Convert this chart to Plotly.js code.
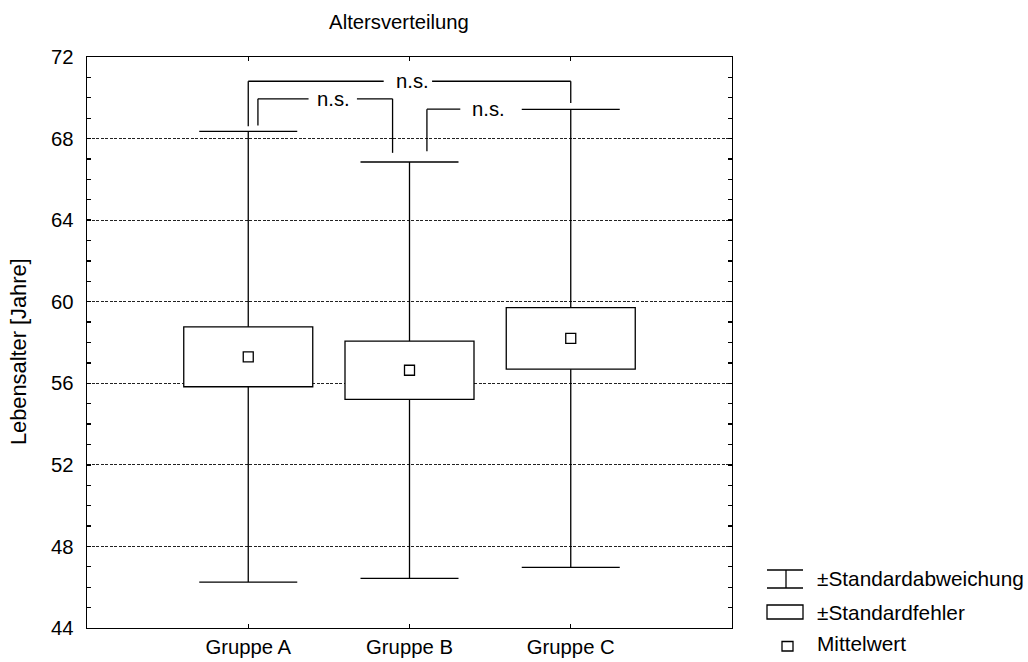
<!DOCTYPE html>
<html>
<head>
<meta charset="utf-8">
<script src="https://cdn.plot.ly/plotly-3.0.1.min.js"></script>
<style>
  html, body { margin: 0; padding: 0; background: #fff; }
  #chart { width: 1028px; height: 662px; }
</style>
</head>
<body>
<div id="chart"></div>
<script>
// ---- Data ----
const groups = ["Gruppe A", "Gruppe B", "Gruppe C"];
const meanAge = [57.30, 56.64, 58.20];   // Mittelwert
const sdAge   = [11.05, 10.21, 11.23];   // Standardabweichung
const seAge   = [1.47, 1.43, 1.51];      // Standardfehler
const yTicks  = [44, 48, 52, 56, 60, 64, 68, 72];
const sigLabel = "n.s.";

// ---- derived values ----
const boxLow  = meanAge.map((m, i) => m - seAge[i]);
const boxHigh = meanAge.map((m, i) => m + seAge[i]);
const sdLow   = meanAge.map((m, i) => m - sdAge[i]);
const sdHigh  = meanAge.map((m, i) => m + sdAge[i]);

// whisker segments: from box edge to SD end (no line through the box)
const whiskX = [], whiskY = [];
groups.forEach((g, i) => {
  whiskX.push(g, g, null, g, g, null);
  whiskY.push(boxHigh[i], sdHigh[i], null, boxLow[i], sdLow[i], null);
});
const capX = groups.concat(groups);
const capY = sdHigh.concat(sdLow);

const FONT = "Liberation Sans, Arial, Helvetica, sans-serif";
const FS = 20.3;
const LW = 1.3;

const traces = [
  { // ±Standardfehler box
    type: "bar",
    x: groups,
    base: boxLow,
    y: seAge.map(s => 2 * s),
    width: 0.8,
    marker: { color: "#ffffff", line: { color: "#000000", width: LW } },
    hoverinfo: "skip",
    showlegend: false
  },
  { // ±Standardabweichung whiskers
    type: "scatter",
    mode: "lines",
    x: whiskX,
    y: whiskY,
    connectgaps: false,
    line: { color: "#000000", width: LW },
    hoverinfo: "skip",
    showlegend: false
  },
  { // whisker caps (line-ew length = 1.4 * size)
    type: "scatter",
    mode: "markers",
    x: capX,
    y: capY,
    marker: { symbol: "line-ew", size: 70, color: "#000000", line: { width: LW, color: "#000000" } },
    hoverinfo: "skip",
    showlegend: false
  },
  { // Mittelwert
    type: "scatter",
    mode: "markers",
    x: groups,
    y: meanAge,
    marker: { symbol: "square-open", size: 10, color: "#000000", line: { width: LW, color: "#000000" } },
    hoverinfo: "skip",
    showlegend: false
  }
];

// ---- significance brackets (geometry in axis units) ----
// [leftX, rightX, topY, leftDropY, rightDropY, gapStartX, gapEndX, textX]
const brackets = [
  [0.00, 2.00, 70.81, 68.60, 69.75, 0.84, 1.14, 1.02],
  [0.06, 0.895, 69.95, 68.64, 67.30, 0.374, 0.674, 0.53],
  [1.108, 1.70, 69.44, 67.38, 69.44, 1.315, 1.70, 1.49]
];

const shapes = [];
const annotations = [];
const lineStyle = { color: "#000000", width: LW };
brackets.forEach(b => {
  const [lx, rx, ty, ly, ry, g0, g1, tx] = b;
  shapes.push({ type: "line", xref: "x", yref: "y", x0: lx, x1: lx, y0: ly, y1: ty, line: lineStyle });
  shapes.push({ type: "line", xref: "x", yref: "y", x0: lx, x1: g0, y0: ty, y1: ty, line: lineStyle });
  if (rx > g1) shapes.push({ type: "line", xref: "x", yref: "y", x0: g1, x1: rx, y0: ty, y1: ty, line: lineStyle });
  if (ry !== ty) shapes.push({ type: "line", xref: "x", yref: "y", x0: rx, x1: rx, y0: ry, y1: ty, line: lineStyle });
  annotations.push({ xref: "x", yref: "y", x: tx, y: ty, text: sigLabel, showarrow: false,
    xanchor: "center", yanchor: "middle", font: { family: FONT, size: FS, color: "#000" } });
});

// ---- manual legend (pixel positions converted to paper coords) ----
const M = { l: 87, r: 296, t: 57, b: 34 };
const PW = 1028 - M.l - M.r, PH = 662 - M.t - M.b;
const px = v => (v - M.l) / PW;
const py = v => (662 - M.b - v) / PH;
function pline(x0, y0, x1, y1) {
  shapes.push({ type: "line", xref: "paper", yref: "paper", x0: px(x0), x1: px(x1), y0: py(y0), y1: py(y1), line: lineStyle });
}
function prect(x0, y0, x1, y1) {
  shapes.push({ type: "rect", xref: "paper", yref: "paper", x0: px(x0), x1: px(x1), y0: py(y0), y1: py(y1), line: lineStyle, fillcolor: "rgba(0,0,0,0)" });
}
pline(767, 570, 803, 570);
pline(786, 570, 786, 588);
pline(767, 588, 803, 588);
prect(767, 605, 803, 619);
prect(782, 641.5, 793, 651);
const legendTexts = [["±Standardabweichung", 578], ["±Standardfehler", 612], ["Mittelwert", 643]];
legendTexts.forEach(([t, y]) => {
  annotations.push({ xref: "paper", yref: "paper", x: px(815), y: py(y), text: t, showarrow: false,
    xanchor: "left", yanchor: "middle", font: { family: FONT, size: 20.8, color: "#000" } });
});

// y-axis title as annotation for exact placement
annotations.push({ xref: "paper", yref: "paper", x: px(18), y: py(352), text: "Lebensalter [Jahre]",
  textangle: -90, showarrow: false, xanchor: "center", yanchor: "middle",
  font: { family: FONT, size: 21.8, color: "#000" } });

const layout = {
  width: 1028, height: 662,
  margin: M,
  paper_bgcolor: "#ffffff",
  plot_bgcolor: "#ffffff",
  font: { family: FONT, size: FS, color: "#000" },
  showlegend: false,
  barmode: "overlay",
  title: { text: "Altersverteilung", x: 399 / 1028, xref: "container",
    xanchor: "center", y: 1 - 22 / 662, yanchor: "middle", font: { family: FONT, size: FS, color: "#000" } },
  xaxis: {
    type: "category",
    range: [-1, 3],
    showline: true, linecolor: "#000", linewidth: LW, mirror: "ticks",
    ticks: "inside", ticklen: 4, tickwidth: LW, tickcolor: "#000",
    showgrid: false, zeroline: false,
    tickfont: { family: FONT, size: FS, color: "#000" },
    ticklabelstandoff: 0,
    fixedrange: true
  },
  yaxis: {
    range: [44, 72],
    tickvals: yTicks,
    ticktext: yTicks.map(String),
    showline: true, linecolor: "#000", linewidth: LW, mirror: "ticks",
    ticks: "inside", ticklen: 4, tickwidth: LW, tickcolor: "#000",
    minor: { dtick: 1, ticks: "inside", ticklen: 4, tickwidth: LW, tickcolor: "#000", showgrid: false },
    showgrid: true, gridcolor: "#222", gridwidth: 1, griddash: "3px,1.5px",
    zeroline: false,
    tickfont: { family: FONT, size: FS, color: "#000" },
    ticklabelstandoff: 8,
    fixedrange: true
  },
  shapes: shapes,
  annotations: annotations
};

Plotly.newPlot("chart", traces, layout, { displayModeBar: false, staticPlot: true });
</script>
</body>
</html>
